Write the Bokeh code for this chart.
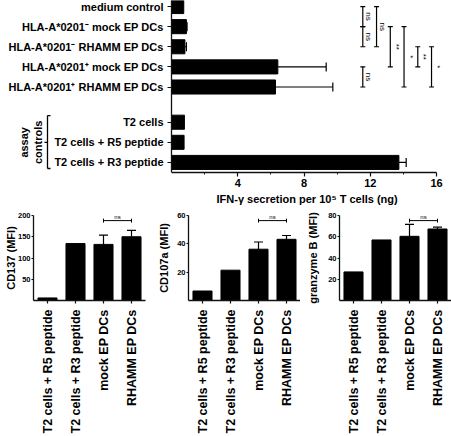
import numpy as np
from bokeh.plotting import figure
from bokeh.layouts import column, row
from bokeh.models import Range1d, FixedTicker, Whisker, TeeHead, ColumnDataSource, Title
from bokeh.core.properties import value
from bokeh.embed import file_html
from bokeh.resources import INLINE

FONT = "Liberation Sans"

# ---- IFN-gamma secretion (top panel) ----
ifn_labels = ["medium control",
              "HLA-A*0201⁻ mock EP DCs",
              "HLA-A*0201⁻ RHAMM EP DCs",
              "HLA-A*0201⁺ mock EP DCs",
              "HLA-A*0201⁺ RHAMM EP DCs",
              "T2 cells",
              "T2 cells + R5 peptide",
              "T2 cells + R3 peptide"]
ifn_mean = [0.74, 0.90, 0.81, 6.42, 6.28, 0.78, 0.76, 13.73]
ifn_err = [0.0, 0.04, 0.09, 2.92, 3.46, 0.0, 0.0, 0.44]
ifn_ticks = [4, 8, 12, 16]
ifn_minor_ticks = [2, 6, 10, 14]
ifn_xmax = 16
ifn_xlabel = "IFN-γ secretion per 10⁵ T cells (ng)"
n_dc_rows = 5            # DC conditions; the rest are assay controls
ctrl_text = ["assay", "controls"]
# pairwise tests between DC conditions: (row a, row b, result)
ifn_tests = [(0, 1, "ns"), (1, 2, "ns"), (3, 4, "ns"), (0, 2, "ns"),
             (1, 3, "**"), (1, 4, "*"), (2, 3, "**"), (2, 4, "*")]
ifn_test_lane = [0, 0, 0, 1, 2, 3, 4, 5]

# ---- flow cytometry panels (bottom) ----
mfi_groups = ["T2 cells + R5 peptide", "T2 cells + R3 peptide",
              "mock EP DCs", "RHAMM EP DCs"]
cd137_mean = [6, 134, 132, 150]
cd137_err = [0, 0, 22, 15]
cd137_ticks = [50, 100, 150, 200]
cd107a_mean = [6.7, 21.4, 36.2, 43.2]
cd107a_err = [0, 0, 5.1, 2.7]
cd107a_ticks = [20, 40, 60]
gzmb_mean = [26.9, 57.0, 60.4, 67.3]
gzmb_err = [0, 0, 11.3, 1.7]
gzmb_ticks = [20, 40, 60, 80]
mfi_test = (2, 3, "ns")


def style_axis(ax, size="11px"):
    ax.axis_line_color = "#111111"
    ax.axis_line_width = 1.3
    ax.major_tick_line_color = "#111111"
    ax.major_tick_line_width = 1.2
    ax.minor_tick_line_color = "#111111"
    ax.major_tick_in = 0
    ax.minor_tick_in = 0
    ax.major_label_text_font = FONT
    ax.major_label_text_font_style = "bold"
    ax.major_label_text_font_size = size
    ax.major_label_text_color = "black"
    ax.axis_label_text_font = FONT
    ax.axis_label_text_font_style = "bold"
    ax.axis_label_text_font_size = "11px"
    ax.axis_label_text_color = "black"


# row positions: a gap separates the assay controls from the DC conditions
ypos = [float(i) for i in range(n_dc_rows)] + \
       [n_dc_rows + 0.75 + i for i in range(len(ifn_labels) - n_dc_rows)]

# the plotting frame spans the full width; the value axis starts 171 px in
# and ends 15 px before the right edge, the category axis sits at x = 0
TOP_W, AX_LEFT, AX_RIGHT = 451, 171, 15
ppu = (TOP_W - AX_LEFT - AX_RIGHT) / ifn_xmax
top = figure(width=TOP_W, height=207,
             x_range=Range1d(-AX_LEFT / ppu, ifn_xmax + AX_RIGHT / ppu),
             y_range=Range1d(ypos[-1] + 0.5, -0.3),
             output_backend="svg", toolbar_location=None,
             min_border_left=0, min_border_right=0,
             min_border_top=0, min_border_bottom=35)
top.outline_line_color = None
top.grid.visible = False

src = ColumnDataSource(dict(y=ypos, right=ifn_mean))
top.hbar(y="y", left=0, right="right", height=0.7, source=src,
         fill_color="black", line_color="black")

err_rows = [i for i, e in enumerate(ifn_err) if e > 0]
err_src = ColumnDataSource(dict(y=[ypos[i] for i in err_rows],
                                lo=[ifn_mean[i] for i in err_rows],
                                hi=[ifn_mean[i] + ifn_err[i] for i in err_rows]))
top.add_layout(Whisker(source=err_src, base="y", lower="lo", upper="hi",
                       dimension="width", line_width=1.2, line_color="black",
                       lower_head=None,
                       upper_head=TeeHead(size=9, line_width=1.2, line_color="black")))

# significance brackets on the right
lane_x0, lane_dx, cap = 11.55, 0.83, 0.15
vx0, vx1, vy0, vy1 = [], [], [], []
tx, ty, tt = [], [], []
for (a, b, res), lane in zip(ifn_tests, ifn_test_lane):
    x = lane_x0 + lane * lane_dx
    vx0 += [x, x - cap, x - cap]
    vx1 += [x, x + cap, x + cap]
    vy0 += [ypos[a], ypos[a], ypos[b]]
    vy1 += [ypos[b], ypos[a], ypos[b]]
    tx.append(x)
    ty.append((ypos[a] + ypos[b]) / 2)
    tt.append(res)
top.segment(x0=vx0, y0=vy0, x1=vx1, y1=vy1, line_color="black", line_width=1.2)
top.text(x=tx, y=ty, text=tt, angle=-np.pi / 2, x_offset=6,
         text_align="center", text_baseline="middle",
         text_font=value(FONT), text_font_size="8px", text_color="black")

# "assay controls" bracket in the margin left of the category labels
ctrl_top = ypos[n_dc_rows] - 0.33
ctrl_bot = ypos[-1] + 0.3
ctrl_mid = (ypos[n_dc_rows] + ypos[-1]) / 2
bx = (47 - AX_LEFT) / ppu
tick = 3 / ppu
top.segment(x0=[bx, bx, bx, bx - tick], y0=[ctrl_top, ctrl_top, ctrl_bot, ctrl_mid],
            x1=[bx, bx + tick, bx + tick, bx], y1=[ctrl_bot, ctrl_top, ctrl_bot, ctrl_mid],
            line_color="black", line_width=1.3)
top.text(x=[bx - 24 / ppu, bx - 10 / ppu], y=[ctrl_mid, ctrl_mid], text=ctrl_text,
         angle=np.pi / 2, text_align="center", text_baseline="middle",
         text_font=value(FONT), text_font_style="bold", text_font_size="11px",
         text_color="black")

xa = top.xaxis[0]
style_axis(xa)
xa.bounds = (0, ifn_xmax)
xa.ticker = FixedTicker(ticks=ifn_ticks, minor_ticks=ifn_minor_ticks)
xa.major_tick_out = 4
xa.minor_tick_out = 2
xa.major_label_standoff = 2

# value-axis title under the drawn part of the axis (left edge 45 px past its start)
top.add_layout(Title(text=ifn_xlabel, align="left", offset=AX_LEFT + 45,
                     text_font=FONT, text_font_style="bold", text_font_size="11px",
                     text_color="black", standoff=3), "below")

ya = top.yaxis[0]
style_axis(ya)
ya.fixed_location = 0
ya.ticker = FixedTicker(ticks=ypos, minor_ticks=[])
ya.major_label_overrides = {y: lab for y, lab in zip(ypos, ifn_labels)}
ya.major_tick_out = 4
ya.major_label_standoff = 4


def mfi_panel(ylabel, mean, err, ticks, width, left, right, standoff):
    ymax = ticks[-1]
    xs = [i + 0.5 for i in range(len(mfi_groups))]
    p = figure(width=width, height=229, x_range=Range1d(0, len(mfi_groups)),
               y_range=Range1d(0, ymax), output_backend="svg",
               toolbar_location=None, min_border_left=left,
               min_border_right=right, min_border_top=8, min_border_bottom=125)
    p.outline_line_color = None
    p.grid.visible = False
    p.vbar(x=xs, top=mean, width=0.68, fill_color="black", line_color="black")

    rows = [i for i, e in enumerate(err) if e > 0]
    es = ColumnDataSource(dict(x=[xs[i] for i in rows],
                               lo=[mean[i] for i in rows],
                               hi=[mean[i] + err[i] for i in rows]))
    p.add_layout(Whisker(source=es, base="x", lower="lo", upper="hi",
                         dimension="height", line_width=1.2, line_color="black",
                         lower_head=None,
                         upper_head=TeeHead(size=9, line_width=1.2, line_color="black")))

    a, b, res = mfi_test
    ny = ymax * 0.94
    h = 2.2 * ymax / 96
    p.segment(x0=[xs[a], xs[a], xs[b]], x1=[xs[b], xs[a], xs[b]],
              y0=[ny, ny - h, ny - h], y1=[ny, ny + h, ny + h],
              line_color="black", line_width=1)
    p.text(x=[(xs[a] + xs[b]) / 2], y=[ny], text=[res], y_offset=-1,
           text_align="center", text_baseline="bottom",
           text_font=value(FONT), text_font_size="6px", text_color="black")

    xa = p.xaxis[0]
    style_axis(xa, size="12.5px")
    xa.ticker = FixedTicker(ticks=xs, minor_ticks=[])
    xa.major_label_overrides = {x: g for x, g in zip(xs, mfi_groups)}
    xa.major_label_orientation = np.pi / 2
    xa.major_tick_out = 3
    xa.major_label_standoff = 6

    ya = p.yaxis[0]
    style_axis(ya, size="7.5px")
    ya.ticker = FixedTicker(ticks=ticks, minor_ticks=[])
    ya.major_tick_out = 2
    ya.major_label_standoff = 1
    ya.axis_label = ylabel
    ya.axis_label_standoff = standoff
    return p


p1 = mfi_panel("CD137 (MFI)", cd137_mean, cd137_err, cd137_ticks, 150, 33, 5, -2)
p2 = mfi_panel("CD107a (MFI)", cd107a_mean, cd107a_err, cd107a_ticks, 150, 38, 0, 4)
p3 = mfi_panel("granzyme B (MFI)", gzmb_mean, gzmb_err, gzmb_ticks, 151, 39, 0, 6)

layout = column(top, row(p1, p2, p3))
open("out.html", "w").write(file_html(layout, INLINE))
